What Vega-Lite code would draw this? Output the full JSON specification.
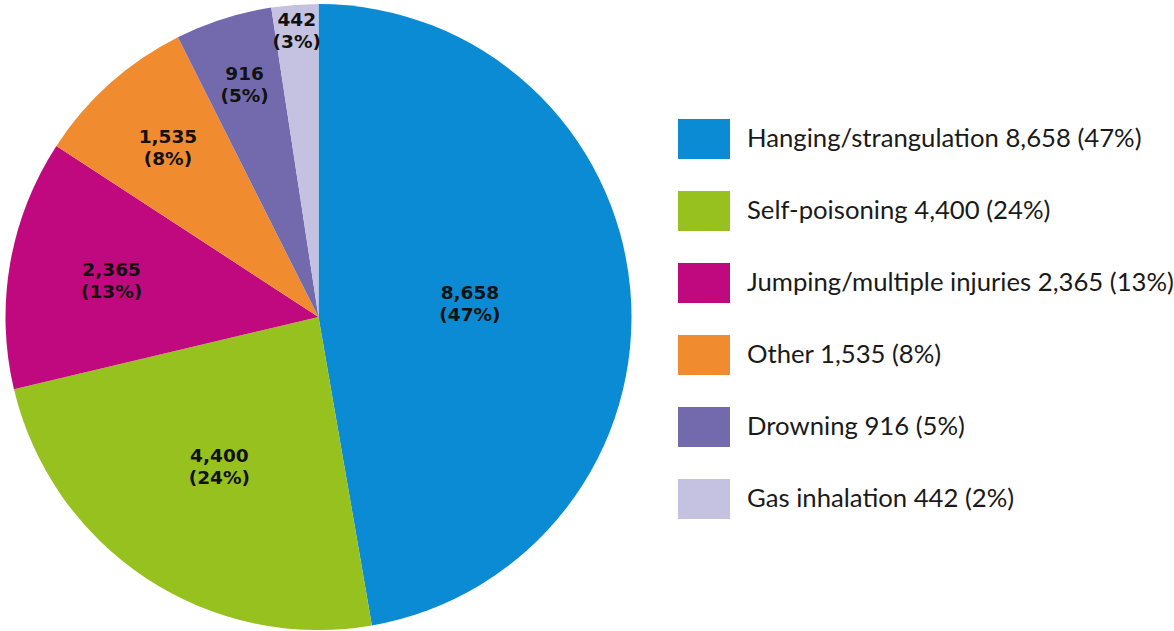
{
  "$schema": "https://vega.github.io/schema/vega-lite/v6.json",
  "width": 637,
  "height": 634,
  "padding": 0,
  "background": "white",
  "config": {"view": {"stroke": null}},
  "data": {
    "values": [
      {"ord": 1, "cause": "Hanging/strangulation 8,658 (47%)", "value": 8658, "label": "8,658\n(47%)"},
      {"ord": 2, "cause": "Self-poisoning 4,400 (24%)", "value": 4400, "label": "4,400\n(24%)"},
      {"ord": 3, "cause": "Jumping/multiple injuries 2,365 (13%)", "value": 2365, "label": "2,365\n(13%)"},
      {"ord": 4, "cause": "Other 1,535 (8%)", "value": 1535, "label": "1,535\n(8%)"},
      {"ord": 5, "cause": "Drowning 916 (5%)", "value": 916, "label": "916\n(5%)"},
      {"ord": 6, "cause": "Gas inhalation 442 (2%)", "value": 442, "label": "442\n(3%)"}
    ]
  },
  "encoding": {
    "theta": {"field": "value", "type": "quantitative", "stack": true},
    "order": {"field": "ord", "type": "quantitative"},
    "color": {
      "field": "cause",
      "type": "nominal",
      "sort": {"field": "ord"},
      "scale": {
        "domain": ["Hanging/strangulation 8,658 (47%)", "Self-poisoning 4,400 (24%)", "Jumping/multiple injuries 2,365 (13%)", "Other 1,535 (8%)", "Drowning 916 (5%)", "Gas inhalation 442 (2%)"],
        "range": ["#0a8bd3", "#97c11f", "#c0097e", "#f18b2f", "#736aae", "#c5c2e1"]
      },
      "legend": {
        "title": null,
        "orient": "none",
        "legendX": 684,
        "legendY": 119,
        "padding": 0,
        "symbolType": "M-1.3,-1H1.3V1H-1.3Z",
        "symbolSize": 1600,
        "symbolStrokeWidth": 0,
        "symbolOpacity": 1,
        "labelFont": "Lato",
        "labelFontSize": 25.7,
        "labelColor": "#1a1a1a",
        "labelOffset": 23,
        "labelLimit": 600,
        "rowPadding": 32
      }
    }
  },
  "layer": [
    {"mark": {"type": "arc", "outerRadius": 313, "stroke": null}},
    {
      "mark": {"type": "text", "font": "DejaVu Sans", "fontWeight": "bold", "fontSize": 18.5, "lineHeight": 22, "lineBreak": "\n", "dy": -11, "color": "#111111", "align": "center", "baseline": "middle"},
      "encoding": {
        "text": {"field": "label"},
        "radius": {"field": "value", "type": "quantitative", "scale": {"type": "linear", "zero": false, "domain": [442, 916, 1535, 2365, 4400, 8658], "range": [287, 243, 226, 210, 180, 152]}, "legend": null},
        "color": {"value": "#111111"}
      }
    }
  ]
}
